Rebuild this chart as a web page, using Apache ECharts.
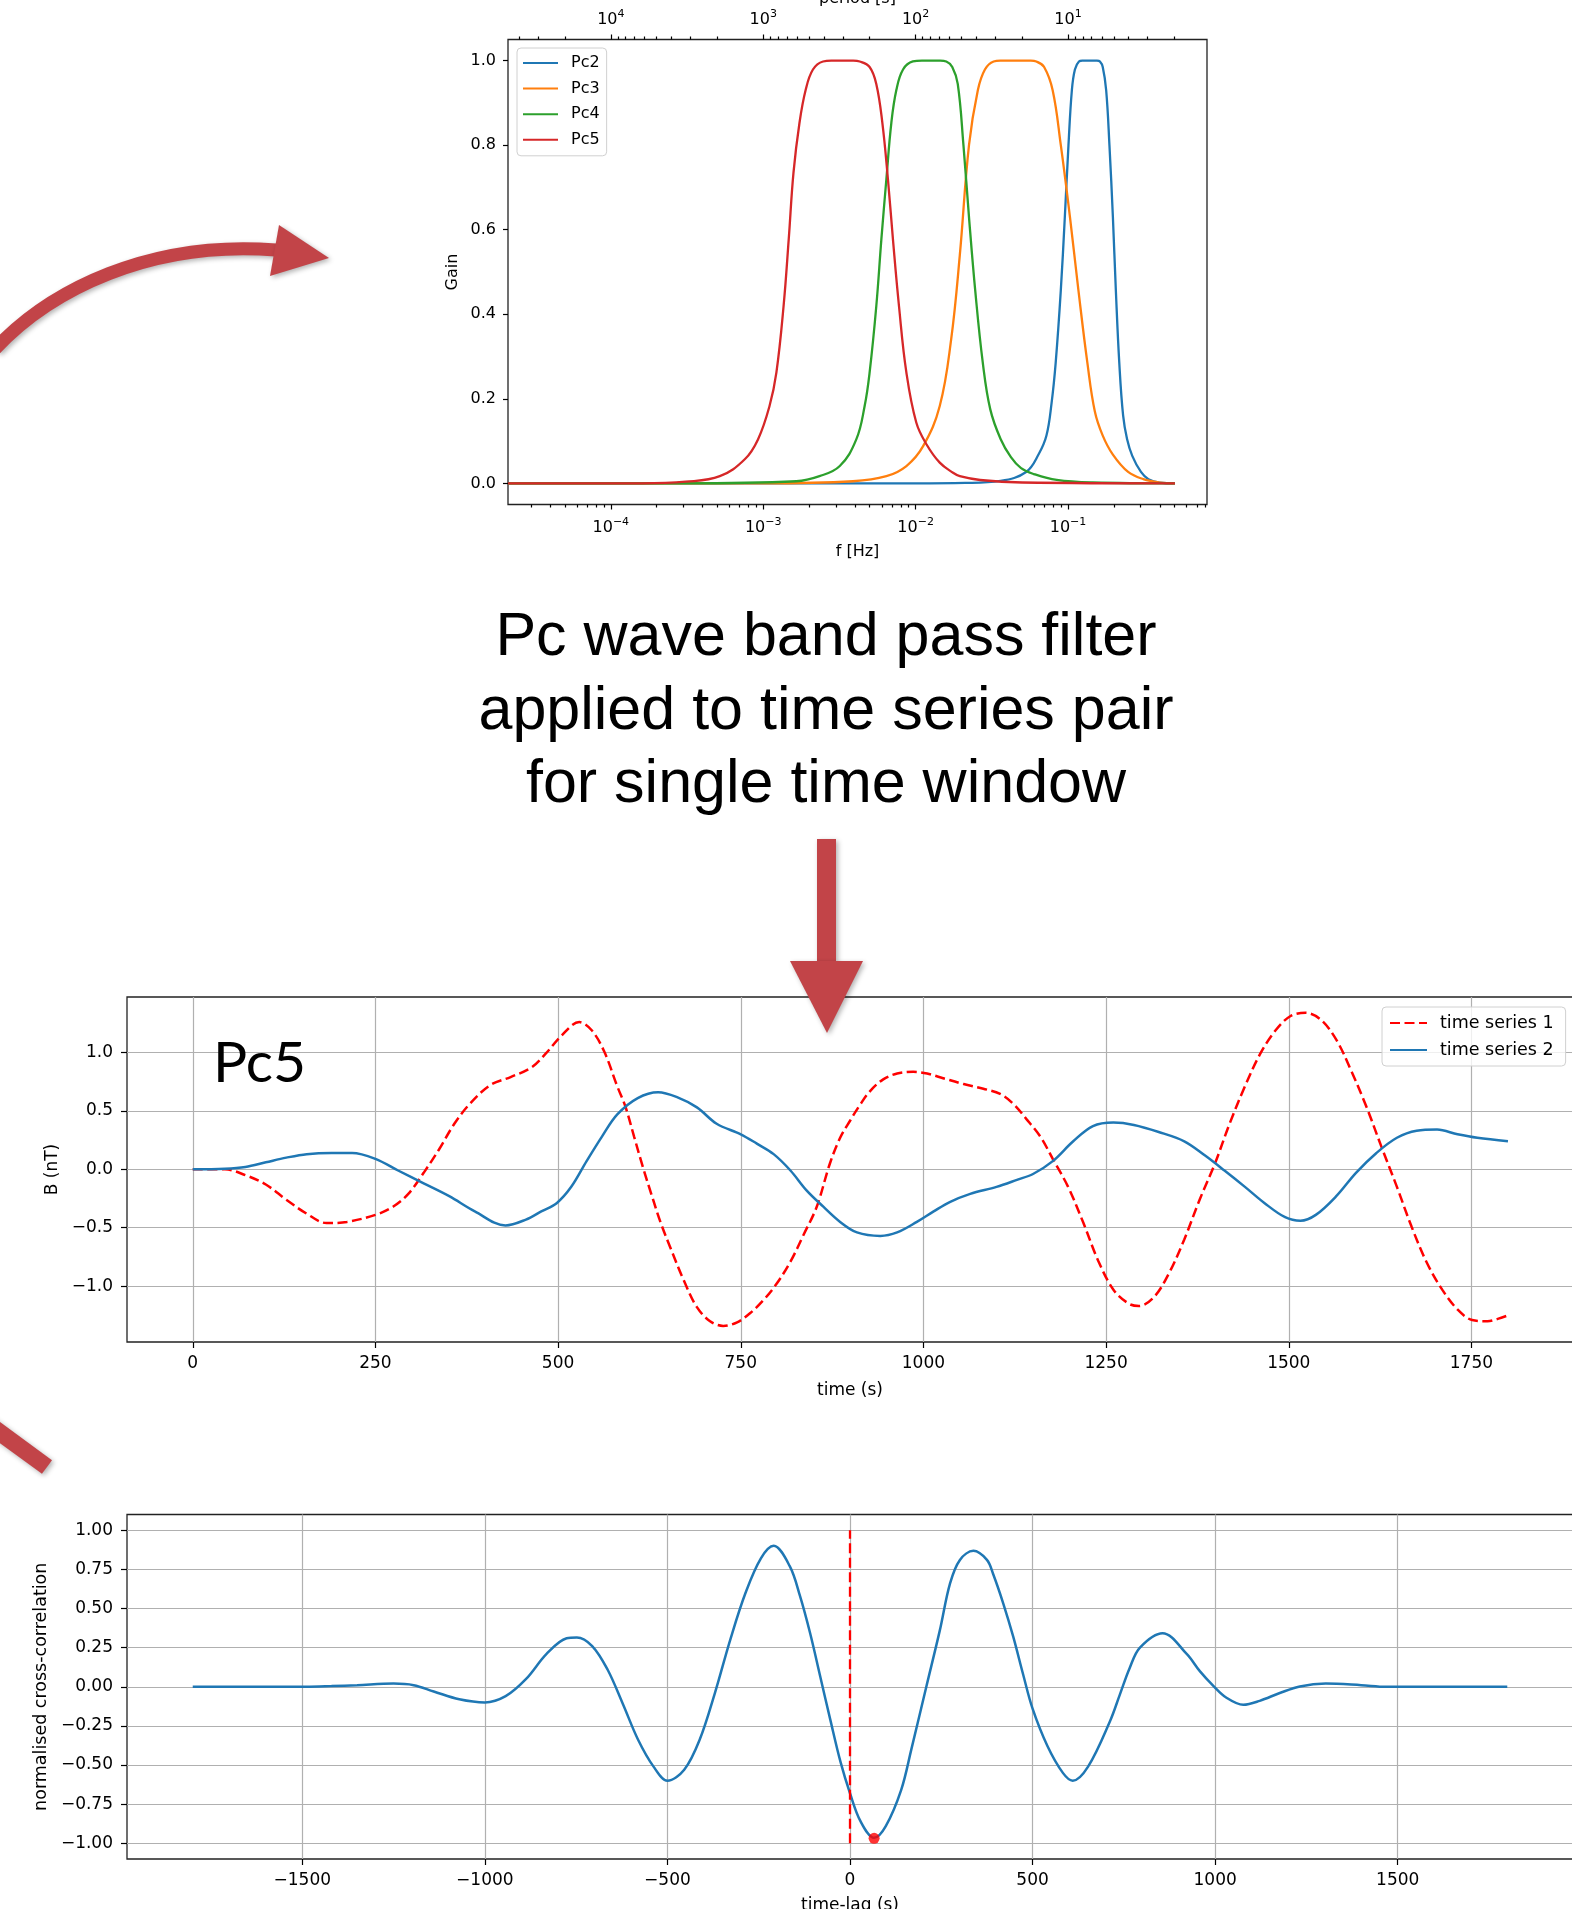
<!DOCTYPE html>
<html>
<head>
<meta charset="utf-8">
<title>Pc wave band pass filter</title>
<script src="https://cdn.jsdelivr.net/npm/echarts@6/dist/echarts.min.js"></script>
<style>
html, body { margin: 0; padding: 0; background: #fff; }
#main { width: 1572px; height: 1909px; }
</style>
</head>
<body>
<div id="main"></div>
<script>
// filter gain curves, [f (Hz), gain]
var pc2Gain = [[2.115e-5,0],[1.0e-2,0],[2.11e-2,0.001],[3.61e-2,0.006],[5.31e-2,0.027],[6.44e-2,0.07],[7.22e-2,0.113],[7.8e-2,0.19],[8.30e-2,0.285],[8.97e-2,0.457],[9.53e-2,0.63],[0.1007,0.80],[0.106,0.93],[0.111,0.979],[0.118,0.998],[0.124,1.0],[0.155,1.0],[0.162,0.998],[0.169,0.985],[0.178,0.93],[0.187,0.80],[0.197,0.63],[0.206,0.457],[0.217,0.285],[0.230,0.16],[0.244,0.105],[0.264,0.065],[0.301,0.027],[0.337,0.01],[0.40,0.002],[0.503,0]];
var pc3Gain = [[2.115e-5,0],[1.0e-3,0],[3.88e-3,0.005],[6.43e-3,0.017],[8.70e-3,0.041],[1.12e-2,0.088],[1.44e-2,0.183],[1.71e-2,0.34],[1.95e-2,0.54],[2.24e-2,0.80],[2.56e-2,0.93],[2.85e-2,0.979],[3.25e-2,0.998],[3.6e-2,1.0],[5.7e-2,1.0],[6.2e-2,0.998],[6.97e-2,0.985],[7.93e-2,0.93],[8.97e-2,0.80],[0.103,0.63],[0.117,0.457],[0.134,0.285],[0.150,0.17],[0.169,0.113],[0.197,0.068],[0.248,0.027],[0.312,0.01],[0.40,0.002],[0.503,0]];
var pc4Gain = [[2.115e-5,0],[3.0e-4,0],[1.65e-3,0.005],[2.34e-3,0.017],[3.18e-3,0.041],[4.08e-3,0.104],[4.63e-3,0.183],[4.99e-3,0.262],[5.52e-3,0.419],[5.96e-3,0.577],[6.43e-3,0.72],[6.93e-3,0.853],[7.48e-3,0.931],[8.27e-3,0.979],[9.60e-3,0.998],[1.1e-2,1.0],[1.45e-2,1.0],[1.59e-2,0.998],[1.74e-2,0.985],[1.89e-2,0.945],[2.06e-2,0.80],[2.24e-2,0.63],[2.46e-2,0.457],[2.76e-2,0.285],[3.09e-2,0.175],[3.61e-2,0.105],[4.22e-2,0.062],[4.92e-2,0.036],[5.97e-2,0.022],[8.43e-2,0.008],[0.145,0.002],[0.503,0]];
var pc5Gain = [[2.115e-5,0],[1.6e-4,0],[3.1e-4,0.004],[5.19e-4,0.017],[7.57e-4,0.057],[9.24e-4,0.104],[1.10e-3,0.183],[1.22e-3,0.262],[1.36e-3,0.419],[1.47e-3,0.577],[1.58e-3,0.735],[1.73e-3,0.853],[1.90e-3,0.931],[2.12e-3,0.979],[2.47e-3,0.998],[2.8e-3,1.0],[3.9e-3,1.0],[4.30e-3,0.998],[4.99e-3,0.985],[5.52e-3,0.945],[6.05e-3,0.853],[6.58e-3,0.72],[7.10e-3,0.577],[7.78e-3,0.419],[8.70e-3,0.262],[1.01e-2,0.144],[1.18e-2,0.092],[1.44e-2,0.049],[1.76e-2,0.025],[1.95e-2,0.017],[2.65e-2,0.008],[5.0e-2,0.002],[0.503,0]];

// filtered time series pair, [time (s), B (nT)]
var series1 = [[0,0],[44,0],[72,-0.05],[100,-0.13],[128,-0.26],[156,-0.38],[183,-0.46],[211,-0.45],[250,-0.39],[274,-0.32],[295,-0.21],[316,-0.03],[337,0.17],[358,0.39],[379,0.56],[407,0.72],[435,0.79],[463,0.87],[483,0.99],[504,1.14],[529,1.26],[546,1.19],[563,1.01],[581,0.71],[592,0.54],[604,0.28],[616,0.02],[628,-0.22],[640,-0.45],[653,-0.66],[672,-0.95],[690,-1.18],[708,-1.30],[726,-1.34],[745,-1.31],[763,-1.23],[781,-1.12],[799,-0.98],[818,-0.79],[836,-0.56],[854,-0.32],[872,0.05],[886,0.27],[900,0.42],[913,0.55],[927,0.67],[945,0.77],[964,0.82],[986,0.835],[1005,0.82],[1027,0.78],[1055,0.73],[1082,0.69],[1105,0.645],[1123,0.56],[1141,0.43],[1160,0.28],[1177,0.09],[1198,-0.15],[1219,-0.46],[1239,-0.78],[1260,-1.03],[1281,-1.15],[1295,-1.17],[1316,-1.09],[1336,-0.89],[1357,-0.60],[1378,-0.26],[1399,0.05],[1419,0.39],[1440,0.71],[1461,0.99],[1482,1.19],[1502,1.31],[1523,1.34],[1544,1.28],[1565,1.11],[1585,0.85],[1606,0.54],[1627,0.19],[1648,-0.15],[1668,-0.49],[1689,-0.80],[1710,-1.03],[1731,-1.20],[1751,-1.29],[1772,-1.30],[1786,-1.28],[1800,-1.25]];
var series2 = [[0,0],[44,0.005],[72,0.02],[100,0.06],[128,0.10],[156,0.13],[190,0.14],[218,0.14],[250,0.09],[281,-0.01],[316,-0.12],[351,-0.23],[386,-0.36],[428,-0.48],[456,-0.43],[477,-0.36],[498,-0.29],[518,-0.15],[539,0.07],[560,0.28],[581,0.47],[609,0.61],[637,0.66],[662,0.62],[690,0.53],[717,0.39],[750,0.30],[772,0.22],[795,0.13],[818,-0.01],[840,-0.18],[863,-0.32],[886,-0.45],[909,-0.54],[941,-0.57],[964,-0.54],[991,-0.45],[1014,-0.36],[1036,-0.28],[1064,-0.21],[1100,-0.15],[1128,-0.09],[1150,-0.04],[1177,0.07],[1205,0.24],[1232,0.37],[1260,0.40],[1288,0.38],[1322,0.32],[1357,0.24],[1385,0.12],[1412,-0.01],[1440,-0.15],[1467,-0.29],[1495,-0.41],[1516,-0.44],[1537,-0.39],[1565,-0.23],[1592,-0.03],[1620,0.14],[1648,0.27],[1675,0.33],[1703,0.34],[1731,0.30],[1758,0.27],[1800,0.24]];

// normalised cross-correlation, [lag (s), value]
var xcorr = [[-1800,0],[-1490,0],[-1420,0.004],[-1350,0.01],[-1250,0.02],[-1195,0.01],[-1140,-0.03],[-1070,-0.08],[-1000,-0.10],[-943,-0.06],[-887,0.05],[-831,0.21],[-776,0.31],[-748,0.315],[-706,0.26],[-664,0.11],[-622,-0.11],[-580,-0.34],[-538,-0.51],[-500,-0.60],[-454,-0.53],[-412,-0.34],[-370,-0.04],[-328,0.30],[-286,0.60],[-244,0.82],[-209,0.90],[-165,0.77],[-137,0.58],[-109,0.34],[-82,0.07],[-54,-0.21],[-26,-0.48],[0,-0.68],[29,-0.86],[66,-0.965],[98,-0.89],[140,-0.66],[168,-0.40],[209,0],[246,0.36],[274,0.66],[301,0.81],[338,0.868],[375,0.81],[392,0.72],[420,0.53],[447,0.32],[474,0.08],[500,-0.14],[541,-0.38],[583,-0.55],[610,-0.60],[652,-0.51],[712,-0.22],[739,-0.05],[766,0.12],[794,0.25],[856,0.342],[922,0.21],[958,0.10],[995,0.006],[1031,-0.07],[1077,-0.115],[1122,-0.09],[1177,-0.04],[1232,0.002],[1303,0.02],[1400,0.01],[1469,0],[1800,0]];
var zeroLag = [[0,-1],[0,1]];
var bestLag = [[66,-0.968]];

// axis ranges and ticks
var fMin = 2.115e-5, fMax = 0.8166;
var fMajorTicks = [1e-4, 1e-3, 1e-2, 1e-1];
var pMajorTicks = [1e1, 1e2, 1e3, 1e4];
var minorMult = [2, 3, 4, 5, 6, 7, 8, 9];
var fDecades = [1e-5, 1e-4, 1e-3, 1e-2, 1e-1];
var pDecades = [1, 10, 100, 1000, 10000];
var gainTicks = [0, 0.2, 0.4, 0.6, 0.8, 1.0];
var timeTicks = [0, 250, 500, 750, 1000, 1250, 1500, 1750];
var bTicks = [-1.0, -0.5, 0, 0.5, 1.0];
var lagTicks = [-1500, -1000, -500, 0, 500, 1000, 1500];
var corrTicks = [-1.0, -0.75, -0.5, -0.25, 0, 0.25, 0.5, 0.75, 1.0];

var fMinorTicks = [], pMinorTicks = [];
fDecades.forEach(function (d) { minorMult.forEach(function (m) { fMinorTicks.push(m * d); }); });
pDecades.forEach(function (d) { minorMult.forEach(function (m) { pMinorTicks.push(m * d); }); });

var FONT = 'DejaVu Sans';
var ARROW = '#c24448';
var MINUS = '\u2212';

function signed(v) { return String(v).replace('-', MINUS); }
function powerLabel(v) {
	var e = Math.round(Math.log(v) / Math.LN10);
	return '{b|10}{sup|' + signed(e) + '}';
}
var richPow = {
	b: { fontSize: 16, lineHeight: 22, fontFamily: FONT, color: '#000' },
	sup: { fontSize: 11, lineHeight: 11, verticalAlign: 'top', fontFamily: FONT, color: '#000' }
};

function frameGrid(left, top, width, height) {
	return { left: left, top: top, width: width, height: height, show: true, outerBoundsMode: 'none',
		borderColor: '#222', borderWidth: 1.3, backgroundColor: 'transparent' };
}
var noLine = { show: false, onZero: false };
function tickStyle(values, len) {
	return { show: true, customValues: values, length: len, lineStyle: { color: '#000', width: 1.2 } };
}
function gridLines() {
	return { show: true, lineStyle: { color: '#b0b0b0', width: 1.2 } };
}
function nameStyle(size) {
	return { fontSize: size, color: '#000', fontFamily: FONT };
}
function labelStyle(values, size, margin, fmt) {
	return { customValues: values, fontSize: size, color: '#000', fontFamily: FONT, margin: margin, formatter: fmt };
}
var shadow = { shadowBlur: 5, shadowColor: 'rgba(0,0,0,0.3)', shadowOffsetX: 2, shadowOffsetY: 2 };
function arrowStyle(extra) {
	return Object.assign({}, shadow, extra);
}
function bigText(text, y) {
	return { type: 'text', x: 826, y: y, z: 50,
		style: { text: text, font: '61px "Liberation Sans", Arial, sans-serif', fill: '#000',
			align: 'center', verticalAlign: 'middle', textAlign: 'center', textVerticalAlign: 'middle' } };
}
function gainLine(name, data, color) {
	return { name: name, type: 'line', xAxisIndex: 0, yAxisIndex: 0, data: data, symbol: 'none', smooth: 0.4,
		lineStyle: { color: color, width: 2.3 }, itemStyle: { color: color } };
}

var chart = echarts.init(document.getElementById('main'));

var option = {
	animation: false,
	backgroundColor: '#fff',
	grid: [
		frameGrid(508, 39.5, 699, 465),
		{ left: 508, top: 39.5, width: 699, height: 465, show: false, outerBoundsMode: 'none' },
		frameGrid(127, 997, 1446, 345),
		frameGrid(127, 1514.5, 1446, 344.5)
	],
	xAxis: [
		{ gridIndex: 0, type: 'log', position: 'bottom', min: fMin, max: fMax,
			axisLine: noLine, splitLine: { show: false },
			axisTick: tickStyle(fMajorTicks, 5),
			axisLabel: { customValues: fMajorTicks, formatter: powerLabel, rich: richPow, margin: 12 },
			name: 'f [Hz]', nameLocation: 'middle', nameGap: 39, nameTextStyle: nameStyle(16) },
		{ gridIndex: 0, type: 'log', position: 'top', inverse: true, min: 1 / fMax, max: 1 / fMin,
			axisLine: noLine, splitLine: { show: false },
			axisTick: tickStyle(pMajorTicks, 5),
			axisLabel: { customValues: pMajorTicks, formatter: powerLabel, rich: richPow, margin: 9 },
			name: 'period [s]', nameLocation: 'middle', nameGap: 33, nameTextStyle: nameStyle(16) },
		{ gridIndex: 1, type: 'log', position: 'bottom', min: fMin, max: fMax,
			axisLine: noLine, splitLine: { show: false }, axisLabel: { show: false },
			axisTick: tickStyle(fMinorTicks, 3) },
		{ gridIndex: 1, type: 'log', position: 'top', inverse: true, min: 1 / fMax, max: 1 / fMin,
			axisLine: noLine, splitLine: { show: false }, axisLabel: { show: false },
			axisTick: tickStyle(pMinorTicks, 3) },
		{ gridIndex: 2, type: 'value', min: -90, max: 1889,
			axisLine: noLine, splitLine: gridLines(),
			axisTick: tickStyle(timeTicks, 6),
			axisLabel: labelStyle(timeTicks, 17, 13.5, function (v) { return signed(v); }),
			name: 'time (s)', nameLocation: 'middle', nameGap: 40.5, nameTextStyle: nameStyle(17) },
		{ gridIndex: 3, type: 'value', min: -1980, max: 1980,
			axisLine: noLine, splitLine: gridLines(),
			axisTick: tickStyle(lagTicks, 6),
			axisLabel: labelStyle(lagTicks, 17, 13.5, function (v) { return signed(v); }),
			name: 'time-lag (s)', nameLocation: 'middle', nameGap: 38.5, nameTextStyle: nameStyle(17) }
	],
	yAxis: [
		{ gridIndex: 0, type: 'value', min: -0.05, max: 1.05,
			axisLine: noLine, splitLine: { show: false },
			axisTick: tickStyle(gainTicks, 5),
			axisLabel: labelStyle(gainTicks, 16, 12, function (v) { return signed(v.toFixed(1)); }),
			name: 'Gain', nameLocation: 'middle', nameGap: 47, nameTextStyle: nameStyle(16) },
		{ gridIndex: 1, type: 'value', min: -0.05, max: 1.05, show: false },
		{ gridIndex: 2, type: 'value', min: -1.478, max: 1.475,
			axisLine: noLine, splitLine: gridLines(),
			axisTick: tickStyle(bTicks, 6),
			axisLabel: labelStyle(bTicks, 17, 14, function (v) { return signed(v.toFixed(1)); }),
			name: 'B (nT)', nameLocation: 'middle', nameGap: 65, nameTextStyle: nameStyle(17) },
		{ gridIndex: 3, type: 'value', min: -1.1, max: 1.1,
			axisLine: noLine, splitLine: gridLines(),
			axisTick: tickStyle(corrTicks, 6),
			axisLabel: labelStyle(corrTicks, 17, 14, function (v) { return signed(v.toFixed(2)); }),
			name: 'normalised cross-correlation', nameLocation: 'middle', nameGap: 77, nameTextStyle: nameStyle(17.5) }
	],
	legend: [
		{ left: 517, top: 48, orient: 'vertical', selectedMode: false,
			data: ['Pc2', 'Pc3', 'Pc4', 'Pc5'],
			itemWidth: 35, itemHeight: 14, itemGap: 9.6, padding: [7, 7, 8, 5],
			itemStyle: { color: 'rgba(0,0,0,0)', borderWidth: 0, opacity: 0 },
			borderColor: '#d0d0d0', borderWidth: 1, borderRadius: 4, backgroundColor: 'rgba(255,255,255,0.8)',
			textStyle: { fontSize: 16, lineHeight: 14, color: '#000', fontFamily: FONT, padding: [0, 0, 0, 8] } },
		{ left: 1382, top: 1007, orient: 'vertical', selectedMode: false,
			data: ['time series 1', 'time series 2'],
			itemWidth: 37, itemHeight: 14, itemGap: 9, padding: [7, 12, 7, 7],
			itemStyle: { color: 'rgba(0,0,0,0)', borderWidth: 0, opacity: 0 },
			borderColor: '#d0d0d0', borderWidth: 1, borderRadius: 4, backgroundColor: 'rgba(255,255,255,0.8)',
			textStyle: { fontSize: 17.5, lineHeight: 14, color: '#000', fontFamily: FONT, padding: [0, 0, 0, 8] } }
	],
	series: [
		gainLine('Pc2', pc2Gain, '#1f77b4'),
		gainLine('Pc3', pc3Gain, '#ff7f0e'),
		gainLine('Pc4', pc4Gain, '#2ca02c'),
		gainLine('Pc5', pc5Gain, '#d62728'),
		{ name: 'time series 1', type: 'line', xAxisIndex: 4, yAxisIndex: 2, data: series1, symbol: 'none', smooth: 0.35,
			lineStyle: { color: '#ff0000', width: 2.5, type: [10, 4.5] }, itemStyle: { color: '#ff0000' } },
		{ name: 'time series 2', type: 'line', xAxisIndex: 4, yAxisIndex: 2, data: series2, symbol: 'none', smooth: 0.35,
			lineStyle: { color: '#1f77b4', width: 2.5 }, itemStyle: { color: '#1f77b4' } },
		{ name: 'xcorr', type: 'line', xAxisIndex: 5, yAxisIndex: 3, data: xcorr, symbol: 'none', smooth: 0.35,
			lineStyle: { color: '#1f77b4', width: 2.5 } },
		{ name: 'zero lag', type: 'line', xAxisIndex: 5, yAxisIndex: 3, data: zeroLag, symbol: 'none',
			lineStyle: { color: '#ff0000', width: 2.3, type: [10, 4.5] } },
		{ name: 'best lag', type: 'scatter', xAxisIndex: 5, yAxisIndex: 3, data: bestLag, symbolSize: 11,
			itemStyle: { color: '#ff0000' }, z: 5 }
	],
	graphic: [
		bigText('Pc wave band pass filter', 638),
		bigText('applied to time series pair', 712),
		bigText('for single time window', 785),
		{ type: 'text', x: 213, y: 1064, z: 50,
			style: { text: 'Pc5', font: '57px "Liberation Sans Narrow", Lato, sans-serif', fill: '#000',
				align: 'left', verticalAlign: 'middle', textAlign: 'left', textVerticalAlign: 'middle' } },
		// curved arrow, top left
		{ type: 'bezierCurve', z: 100,
			shape: { x1: -5, y1: 349, cpx1: 50, cpy1: 290, cpx2: 150, cpy2: 240, x2: 276, y2: 250 },
			style: arrowStyle({ stroke: ARROW, lineWidth: 13, fill: null }) },
		{ type: 'polygon', z: 100, shape: { points: [[279, 225], [329, 258], [270, 276]] },
			style: arrowStyle({ fill: ARROW }) },
		// vertical arrow
		{ type: 'rect', z: 100, shape: { x: 817, y: 839, width: 19, height: 123 },
			style: arrowStyle({ fill: ARROW }) },
		{ type: 'polygon', z: 100, shape: { points: [[790, 961], [863, 961], [827, 1033]] },
			style: arrowStyle({ fill: ARROW }) },
		// arrow piece, bottom left
		{ type: 'line', z: 100, shape: { x1: -20, y1: 1418, x2: 47, y2: 1467 },
			style: arrowStyle({ stroke: ARROW, lineWidth: 17 }) }
	]
};

chart.setOption(option);
</script>
</body>
</html>
